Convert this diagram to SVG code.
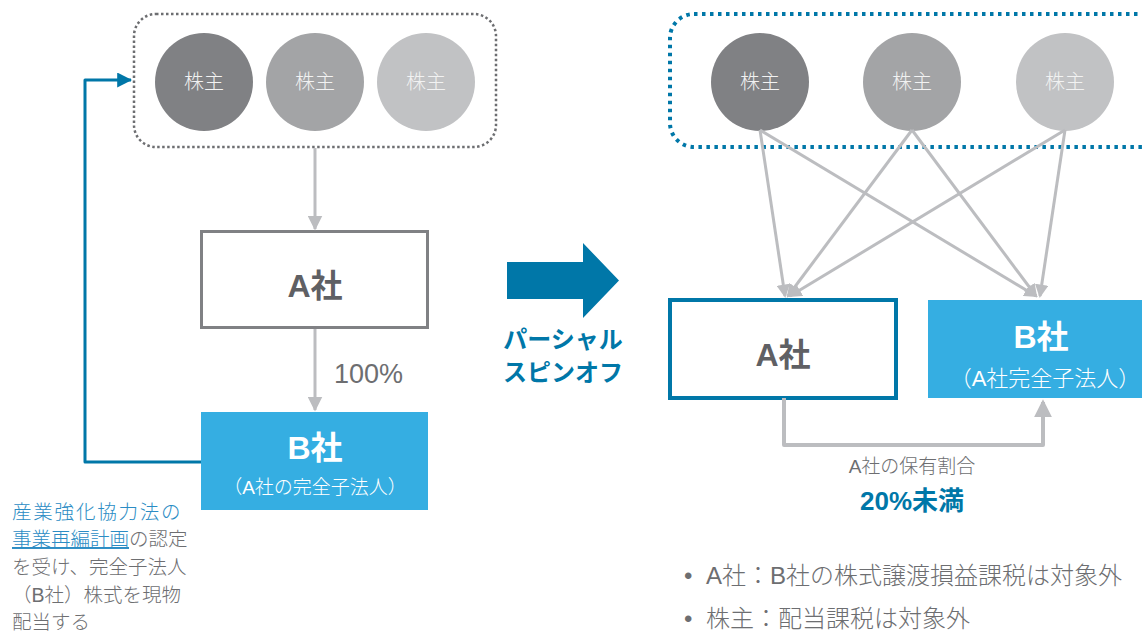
<svg xmlns="http://www.w3.org/2000/svg" width="1142" height="634" viewBox="0 0 1142 634">
<defs>
<marker id="gh" markerWidth="5" markerHeight="5" refX="4.5" refY="2.5" orient="auto" markerUnits="strokeWidth"><path d="M0,0 L5,2.5 L0,5 Z" fill="#bcbdc0"/></marker>
<marker id="gh2" markerWidth="4.5" markerHeight="4.5" refX="3.8" refY="2.25" orient="auto" markerUnits="strokeWidth"><path d="M0,0 L4.5,2.25 L0,4.5 Z" fill="#bcbdc0"/></marker>
<marker id="bh" markerWidth="5" markerHeight="5" refX="4.6" refY="2.5" orient="auto" markerUnits="strokeWidth"><path d="M0,0 L5,2.5 L0,5 Z" fill="#0077a8"/></marker>
</defs>
<style>
text{font-family:"Liberation Sans","Noto Sans CJK JP",sans-serif}
.sh{fill:#f2f2f2;font-size:20px;font-weight:300;text-anchor:middle}
.ttl{font-size:32px;font-weight:bold;text-anchor:middle}
.sub{font-weight:300;fill:#ffffff;text-anchor:middle}
.g{fill:#6d6e71;font-weight:300}
.bl{fill:#2b8cc4;font-weight:300}
.con{fill:none;stroke:#bcbdc0;stroke-width:3}
</style>

<g id="left-shareholders">
<rect x="134" y="14" width="362" height="133" rx="22" fill="none" stroke="#6d6e71" stroke-width="2.5" stroke-dasharray="2.5 2.5"/>
<circle cx="204" cy="82" r="49" fill="#808184"/>
<circle cx="315" cy="82" r="49" fill="#a3a4a6"/>
<circle cx="426" cy="82" r="49" fill="#c1c2c4"/>
<text class="sh" x="204" y="89">株主</text>
<text class="sh" x="315" y="89">株主</text>
<text class="sh" x="426" y="89">株主</text>
</g>

<g id="left-A">
<rect x="201.5" y="231.5" width="226" height="96" fill="#fff" stroke="#808184" stroke-width="3"/>
<text class="ttl" x="315" y="297" fill="#5f6064">A社</text>
</g>

<g id="left-B">
<rect x="201" y="412" width="227" height="98" fill="#35aee2"/>
<text class="ttl" x="315" y="459" fill="#fff">B社</text>
<text class="sub" x="315" y="494" font-size="19">（A社の完全子法人）</text>
</g>

<g id="left-connectors">
<line class="con" x1="315" y1="148" x2="315" y2="229" marker-end="url(#gh)"/>
<line class="con" x1="315" y1="329" x2="315" y2="410" marker-end="url(#gh)"/>
<text class="g" x="334" y="383" font-size="27">100%</text>
<polyline points="201,462 85,462 85,80 131,80" fill="none" stroke="#0077a8" stroke-width="3" stroke-linejoin="round" marker-end="url(#bh)"/>
</g>

<g id="left-note" font-size="19.5">
<text x="12" y="519" class="bl" letter-spacing="1.8">産業強化協力法の</text>
<text x="12" y="546"><tspan class="bl" text-decoration="underline">事業再編計画</tspan><tspan class="g">の認定</tspan></text>
<text x="12" y="574" class="g">を受け、完全子法人</text>
<text x="12" y="602" class="g">（B社）株式を現物</text>
<text x="12" y="629" class="g">配当する</text>
</g>

<g id="spinoff-arrow">
<path d="M507,262 L583,262 L583,243 L619,280.5 L583,318 L583,299 L507,299 Z" fill="#0077a8"/>
<text x="563" y="348" font-size="24" font-weight="bold" fill="#0077a8" text-anchor="middle">パーシャル</text>
<text x="563" y="381" font-size="24" font-weight="bold" fill="#0077a8" text-anchor="middle">スピンオフ</text>
</g>

<g id="right-shareholders">
<rect x="670" y="14" width="500" height="133" rx="24" fill="none" stroke="#0077a8" stroke-width="4" stroke-dasharray="3.5 4.5"/>
<circle cx="760" cy="82" r="49" fill="#808184"/>
<circle cx="912" cy="82" r="49" fill="#a3a4a6"/>
<circle cx="1065" cy="82" r="49" fill="#c1c2c4"/>
<text class="sh" x="760" y="89">株主</text>
<text class="sh" x="912" y="89">株主</text>
<text class="sh" x="1065" y="89">株主</text>
</g>

<g id="right-A">
<rect x="670" y="300" width="226" height="98" fill="#fff" stroke="#0077a8" stroke-width="4"/>
<text class="ttl" x="783" y="366" fill="#5f6064">A社</text>
</g>

<g id="right-B">
<rect x="928" y="300" width="214" height="98" fill="#35aee2"/>
<text class="ttl" x="1041" y="348" fill="#fff">B社</text>
<text class="sub" x="1045" y="386" font-size="22">（A社完全子法人）</text>
</g>

<g id="right-connectors">
<line class="con" x1="760" y1="130" x2="785" y2="296" marker-end="url(#gh2)"/>
<line class="con" x1="912" y1="130" x2="788" y2="296" marker-end="url(#gh2)"/>
<line class="con" x1="1065" y1="130" x2="790" y2="296" marker-end="url(#gh2)"/>
<line class="con" x1="760" y1="130" x2="1036" y2="296" marker-end="url(#gh2)"/>
<line class="con" x1="912" y1="130" x2="1036" y2="296" marker-end="url(#gh2)"/>
<line class="con" x1="1065" y1="130" x2="1040" y2="296" marker-end="url(#gh2)"/>
<polyline points="784,398 784,445 1043,445 1043,402" fill="none" stroke="#bcbdc0" stroke-width="4" stroke-linejoin="round" marker-end="url(#gh2)"/>
<text class="g" x="912" y="473" font-size="19" text-anchor="middle">A社の保有割合</text>
<text x="912" y="510" font-size="26" font-weight="bold" fill="#0077a8" text-anchor="middle">20%未満</text>
</g>

<g id="bullets" font-size="24">
<text x="684" y="584" class="g">•</text>
<text x="706" y="584" class="g">A社：B社の株式譲渡損益課税は対象外</text>
<text x="684" y="627" class="g">•</text>
<text x="706" y="627" class="g">株主：配当課税は対象外</text>
</g>
</svg>
